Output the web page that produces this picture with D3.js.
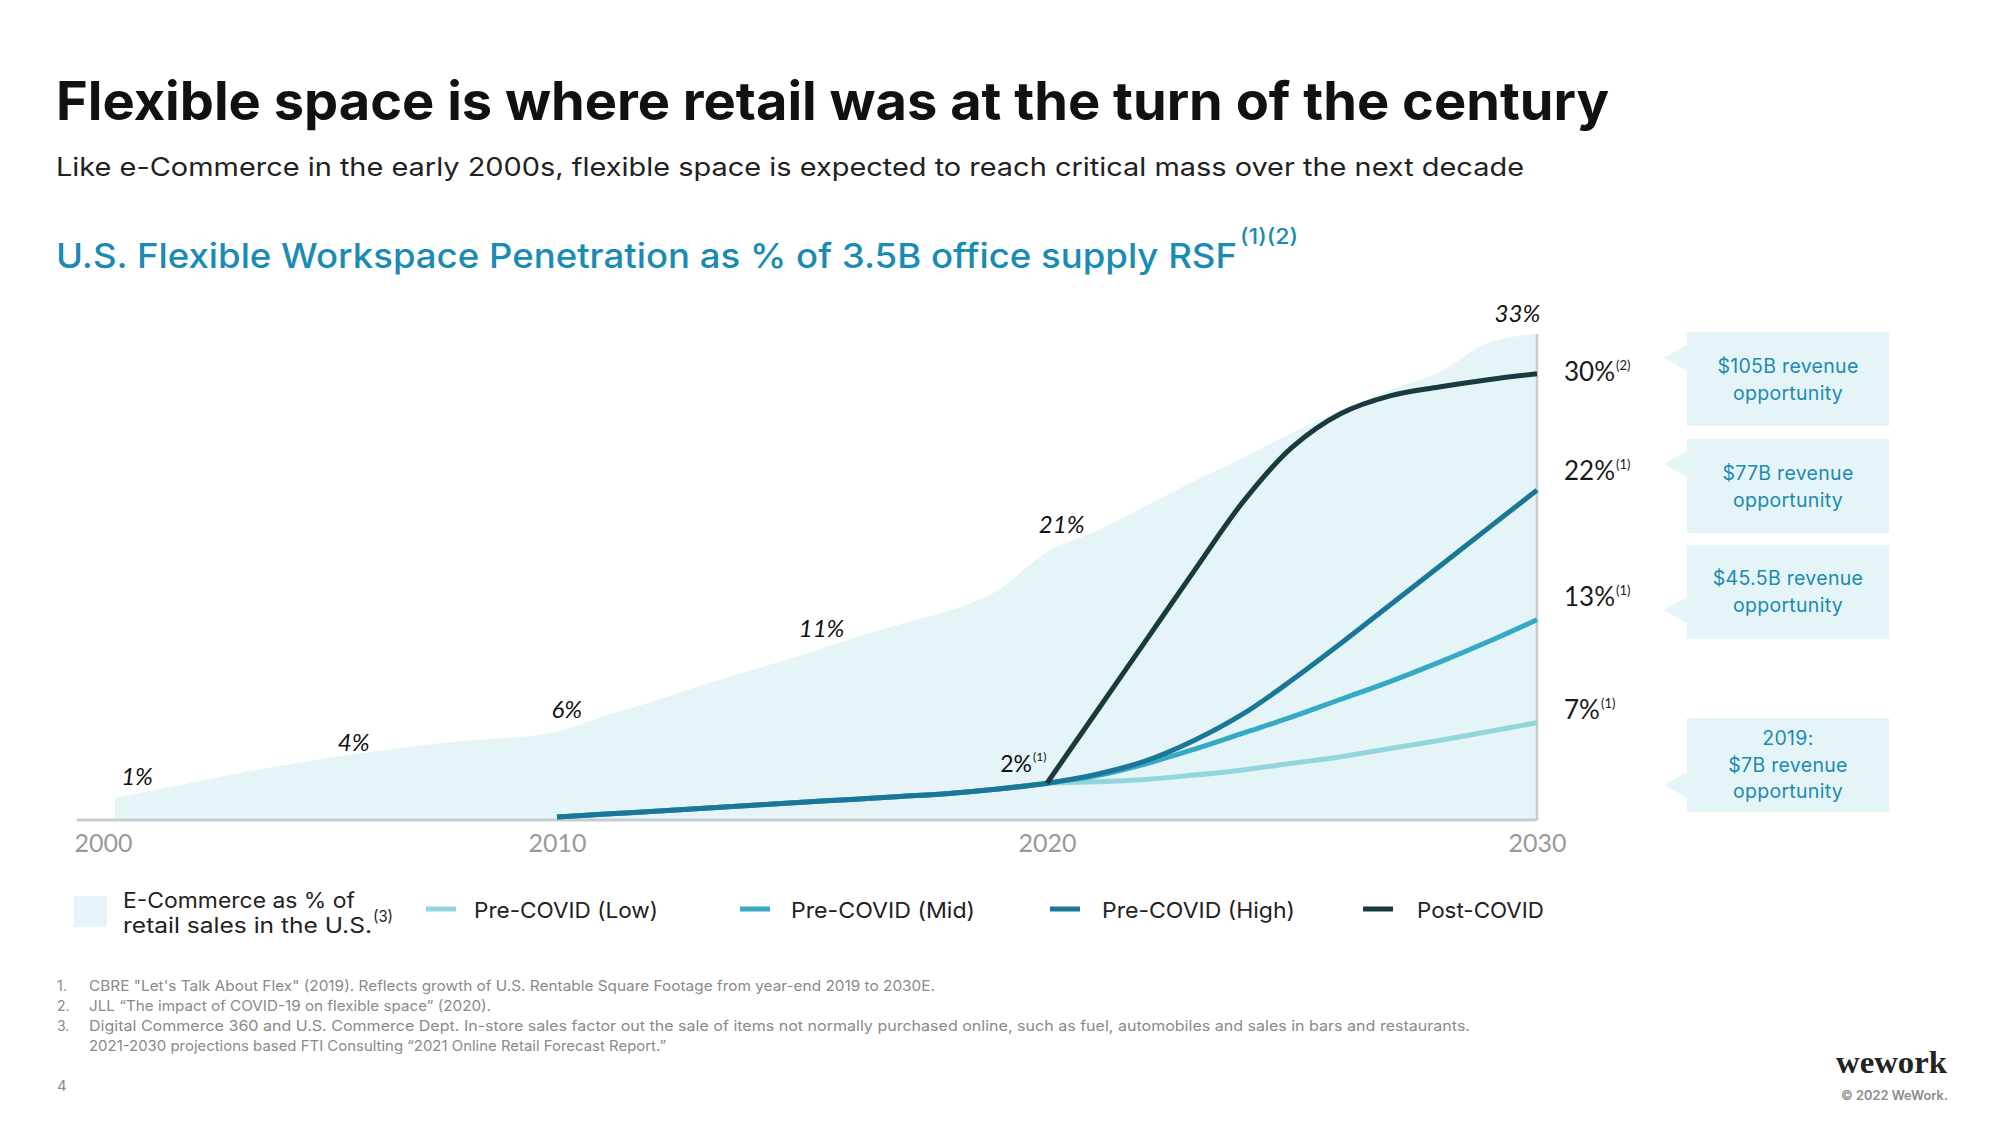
<!DOCTYPE html>
<html><head><meta charset="utf-8">
<script src="https://cdn.jsdelivr.net/npm/d3@7/dist/d3.min.js"></script>
<style>
html,body{margin:0;padding:0;background:#fff;}
svg{display:block;}
</style></head>
<body>
<svg id="chart" width="2000" height="1125"></svg>
<script>
// ---------------- DATA ----------------
const tickYears = [2000, 2010, 2020, 2030];

const ecommerceYears = [2000,2001,2002,2003,2004,2005,2006,2007,2008,2009,2010,2011,2012,2013,2014,2015,2016,2017,2018,2019,2020,2021,2022,2023,2024,2025,2026,2027,2028,2029,2030];
const ecommerceShare = [1.5,2.1,2.7,3.3,3.8,4.3,4.7,5.1,5.4,5.6,6.0,7.1,8.1,9.2,10.2,11.2,12.3,13.3,14.2,15.6,18.2,19.6,21.3,23.0,24.6,26.3,27.8,29.2,30.4,32.4,33.0];

const flexYears = [2010,2011,2012,2013,2014,2015,2016,2017,2018,2019,2020,2021,2022,2023,2024,2025,2026,2027,2028,2029,2030];
const preCovidLow  = [0.2,0.4,0.6,0.8,1.0,1.2,1.4,1.6,1.8,2.1,2.5,2.6,2.75,3.05,3.4,3.85,4.3,4.85,5.4,6.0,6.6];
const preCovidMid  = [0.2,0.4,0.6,0.8,1.0,1.2,1.4,1.6,1.8,2.1,2.5,3.0,3.8,4.8,5.9,7.0,8.2,9.4,10.7,12.1,13.6];
const preCovidHigh = [0.2,0.4,0.6,0.8,1.0,1.2,1.4,1.6,1.8,2.1,2.5,3.1,4.0,5.4,7.2,9.5,12.0,14.6,17.2,19.8,22.4];

const postCovidYears = [2020,2021,2022,2023,2024,2025,2026,2027,2028,2029,2030];
const postCovid = [2.5,7.3,12.1,16.9,21.6,25.3,27.6,28.8,29.4,29.9,30.3];

const ecomLabels = ["1%","4%","6%","11%","21%","33%"];
const ecomLabelYears = [2000.5, 2005.4, 2010.2, 2015.4, 2020.3, 2029.6];

const startLabel = "2%", startNote = "(1)";
const endLabels = ["30%","22%","13%","7%"];
const endNotes = ["(2)","(1)","(1)","(1)"];

const revenueBoxes = [
  ["$105B revenue","opportunity"],
  ["$77B revenue","opportunity"],
  ["$45.5B revenue","opportunity"],
  ["2019:","$7B revenue","opportunity"]
];

const legendSeries = ["Pre-COVID (Low)","Pre-COVID (Mid)","Pre-COVID (High)","Post-COVID"];
const areaLegend = ["E-Commerce as % of","retail sales in the U.S."];

const footnoteNums = ["1.","2.","3.",""];
const footnotes = [
  "CBRE \"Let's Talk About Flex\" (2019). Reflects growth of U.S. Rentable Square Footage from year-end 2019 to 2030E.",
  "JLL \u201CThe impact of COVID-19 on flexible space\u201D (2020).",
  "Digital Commerce 360 and U.S. Commerce Dept. In-store sales factor out the sale of items not normally purchased online, such as fuel, automobiles and sales in bars and restaurants.",
  "2021-2030 projections based FTI Consulting \u201C2021 Online Retail Forecast Report.\u201D"
];

// ---------------- STYLE ----------------
const C = {
  area: "#e5f4f6",
  low: "#93d5dd",
  mid: "#36a9c4",
  high: "#1b7798",
  post: "#183a40",
  axis: "#c8ccd0",
  accent: "#1a8bb3",
  tick: "#9a9a9a"
};
const SANS = "Inter, 'Open Sans', sans-serif";
const LATO = "Lato, 'Open Sans', sans-serif";

const svg = d3.select("#chart");

// ---------------- HEADER ----------------
svg.append("text").attr("x", 56).attr("y", 120)
  .attr("font-family", SANS).attr("font-weight", 700).attr("font-size", 53)
  .attr("fill", "#111").attr("textLength", 1553).attr("lengthAdjust", "spacingAndGlyphs")
  .text("Flexible space is where retail was at the turn of the century");

svg.append("text").attr("x", 56).attr("y", 176)
  .attr("font-family", SANS).attr("font-size", 25.5)
  .attr("fill", "#222").attr("textLength", 1468).attr("lengthAdjust", "spacingAndGlyphs")
  .text("Like e-Commerce in the early 2000s, flexible space is expected to reach critical mass over the next decade");

svg.append("text").attr("x", 56).attr("y", 268)
  .attr("font-family", SANS).attr("font-weight", 500).attr("font-size", 34)
  .attr("fill", C.accent).attr("textLength", 1181).attr("lengthAdjust", "spacingAndGlyphs")
  .text("U.S. Flexible Workspace Penetration as % of 3.5B office supply RSF");
svg.append("text").attr("x", 1240).attr("y", 244)
  .attr("font-family", SANS).attr("font-weight", 500).attr("font-size", 21)
  .attr("fill", C.accent).attr("textLength", 58).attr("lengthAdjust", "spacingAndGlyphs")
  .text("(1)(2)");

// ---------------- SCALES ----------------
const x = d3.scaleLinear().domain([2000, 2010, 2020, 2030]).range([115, 557, 1047, 1537]);
const y = d3.scaleLinear().domain([0, 33]).range([820, 334]);

const plot = svg.append("g");

// area
const ecomData = ecommerceYears.map((yr, i) => [yr, ecommerceShare[i]]);
plot.append("path").datum(ecomData)
  .attr("fill", C.area)
  .attr("d", d3.area().x(d => x(d[0])).y0(y(0)).y1(d => y(d[1])).curve(d3.curveMonotoneX));

// baseline and 2030 rule
plot.append("line").attr("x1", 77).attr("x2", x(2030)).attr("y1", y(0)).attr("y2", y(0))
  .attr("stroke", C.axis).attr("stroke-width", 3);
plot.append("line").attr("x1", x(2030)).attr("x2", x(2030)).attr("y1", y(33)).attr("y2", y(0))
  .attr("stroke", C.axis).attr("stroke-width", 2.5);

// lines
const line = d3.line().x(d => x(d[0])).y(d => y(d[1])).curve(d3.curveCatmullRom.alpha(0.5));
const series = [
  {vals: preCovidLow, yrs: flexYears, color: C.low},
  {vals: preCovidMid, yrs: flexYears, color: C.mid},
  {vals: preCovidHigh, yrs: flexYears, color: C.high},
  {vals: postCovid, yrs: postCovidYears, color: C.post}
];
series.forEach(s => {
  plot.append("path").datum(s.yrs.map((yr, i) => [yr, s.vals[i]]))
    .attr("fill", "none").attr("stroke", s.color).attr("stroke-width", 5)
    .attr("stroke-linecap", "butt").attr("stroke-linejoin", "round")
    .attr("d", line);
});

// axis
const axis = plot.append("g").attr("transform", `translate(0,${y(0)})`)
  .call(d3.axisBottom(x).tickValues(tickYears).tickFormat(d3.format("d")).tickSize(0).tickPadding(14));
axis.select(".domain").remove();
axis.selectAll("text").attr("font-family", LATO).attr("font-size", 25)
  .attr("fill", C.tick).attr("dx", (d, i) => i === 0 ? -12 : 0);

// e-commerce labels
const ecomLabelBaselines = [785, 751, 718, 637, 533, 322];
plot.selectAll(".ecl").data(ecomLabels).join("text")
  .attr("x", (d, i) => x(ecomLabelYears[i]))
  .attr("y", (d, i) => ecomLabelBaselines[i])
  .attr("text-anchor", "middle").attr("font-family", LATO).attr("font-style", "italic")
  .attr("font-size", 24).attr("fill", "#111")
  .text(d => d);

// 2% start label
plot.append("text").attr("x", x(2020) - 15).attr("y", y(2.5) - 11)
  .attr("text-anchor", "end").attr("font-family", LATO).attr("font-size", 23).attr("fill", "#111")
  .text(startLabel);
plot.append("text").attr("x", x(2020) - 14).attr("y", y(2.5) - 22)
  .attr("font-family", LATO).attr("font-size", 12).attr("fill", "#111").text(startNote);

// end labels
const endBaselines = [381, 480, 606, 719];
endLabels.forEach((t, i) => {
  const g = plot.append("text").attr("x", x(2030) + 27).attr("y", endBaselines[i])
    .attr("font-family", LATO).attr("font-size", 26).attr("fill", "#1a1a1a");
  g.append("tspan").text(t);
  g.append("tspan").attr("font-size", 13).attr("dy", -11).attr("dx", 1).text(endNotes[i]);
});

// ---------------- REVENUE BOXES ----------------
const boxX = 1687, boxW = 202;
const boxTops = [332, 439, 545, 718];
const boxH = 94;
const tipYs = [358, 464, 610, 785];
const lineBaselines = [[373, 400], [480, 507], [585, 612], [745, 772, 798]];
revenueBoxes.forEach((lines, i) => {
  svg.append("path")
    .attr("d", `M${boxX},${tipYs[i] - 13} L${boxX - 23},${tipYs[i]} L${boxX},${tipYs[i] + 13} Z`)
    .attr("fill", C.area);
  svg.append("rect").attr("x", boxX).attr("y", boxTops[i]).attr("width", boxW).attr("height", boxH)
    .attr("fill", C.area);
  lines.forEach((t, j) => {
    svg.append("text").attr("x", boxX + boxW / 2).attr("y", lineBaselines[i][j])
      .attr("text-anchor", "middle").attr("font-family", SANS).attr("font-size", 19.5)
      .attr("letter-spacing", 0.3).attr("fill", C.accent).text(t);
  });
});

// ---------------- LEGEND ----------------
const leg = svg.append("g");
leg.append("rect").attr("x", 74).attr("y", 896).attr("width", 33).attr("height", 31).attr("fill", C.area);
leg.append("text").attr("x", 123).attr("y", 908).attr("font-family", SANS).attr("font-size", 21)
  .attr("fill", "#222").attr("textLength", 232).attr("lengthAdjust", "spacingAndGlyphs").text(areaLegend[0]);
leg.append("text").attr("x", 123).attr("y", 933).attr("font-family", SANS).attr("font-size", 21)
  .attr("fill", "#222").attr("textLength", 249).attr("lengthAdjust", "spacingAndGlyphs").text(areaLegend[1]);
leg.append("text").attr("x", 373).attr("y", 922).attr("font-family", SANS).attr("font-size", 16)
  .attr("fill", "#222").attr("textLength", 20).attr("lengthAdjust", "spacingAndGlyphs").text("(3)");

const legSwatchX = [426, 740, 1050, 1363];
const legTextX = [474, 791, 1102, 1417];
const legTextW = [184, 184, 193, 127];
const legColors = [C.low, C.mid, C.high, C.post];
legendSeries.forEach((t, i) => {
  leg.append("line").attr("x1", legSwatchX[i]).attr("x2", legSwatchX[i] + 30)
    .attr("y1", 909).attr("y2", 909).attr("stroke", legColors[i]).attr("stroke-width", 5);
  leg.append("text").attr("x", legTextX[i]).attr("y", 918).attr("font-family", SANS).attr("font-size", 22)
    .attr("fill", "#222").attr("textLength", legTextW[i]).attr("lengthAdjust", "spacingAndGlyphs").text(t);
});

// ---------------- FOOTNOTES ----------------
const fnBase = [991, 1011, 1031, 1051];
const fnW = [846, 402, 1381, 577];
footnotes.forEach((t, i) => {
  svg.append("text").attr("x", 57).attr("y", fnBase[i]).attr("font-family", SANS).attr("font-size", 14)
    .attr("fill", "#8a8a8a").text(footnoteNums[i]);
  svg.append("text").attr("x", 89).attr("y", fnBase[i]).attr("font-family", SANS).attr("font-size", 14.5)
    .attr("fill", "#8a8a8a").attr("textLength", fnW[i]).attr("lengthAdjust", "spacingAndGlyphs").text(t);
});
svg.append("text").attr("x", 57).attr("y", 1091).attr("font-family", SANS).attr("font-size", 15)
  .attr("fill", "#8a8a8a").text("4");

// ---------------- LOGO ----------------
svg.append("text").attr("x", 1836).attr("y", 1073)
  .attr("font-family", "'Liberation Serif', 'DejaVu Serif', serif").attr("font-weight", 700)
  .attr("font-size", 31).attr("fill", "#232323").attr("textLength", 111).attr("lengthAdjust", "spacingAndGlyphs")
  .text("wework");
svg.append("text").attr("x", 1841).attr("y", 1100)
  .attr("font-family", SANS).attr("font-weight", 600).attr("font-size", 12.5)
  .attr("fill", "#8a8a8a").attr("textLength", 107).attr("lengthAdjust", "spacingAndGlyphs")
  .text("\u00A9 2022 WeWork.");
</script>
</body></html>
